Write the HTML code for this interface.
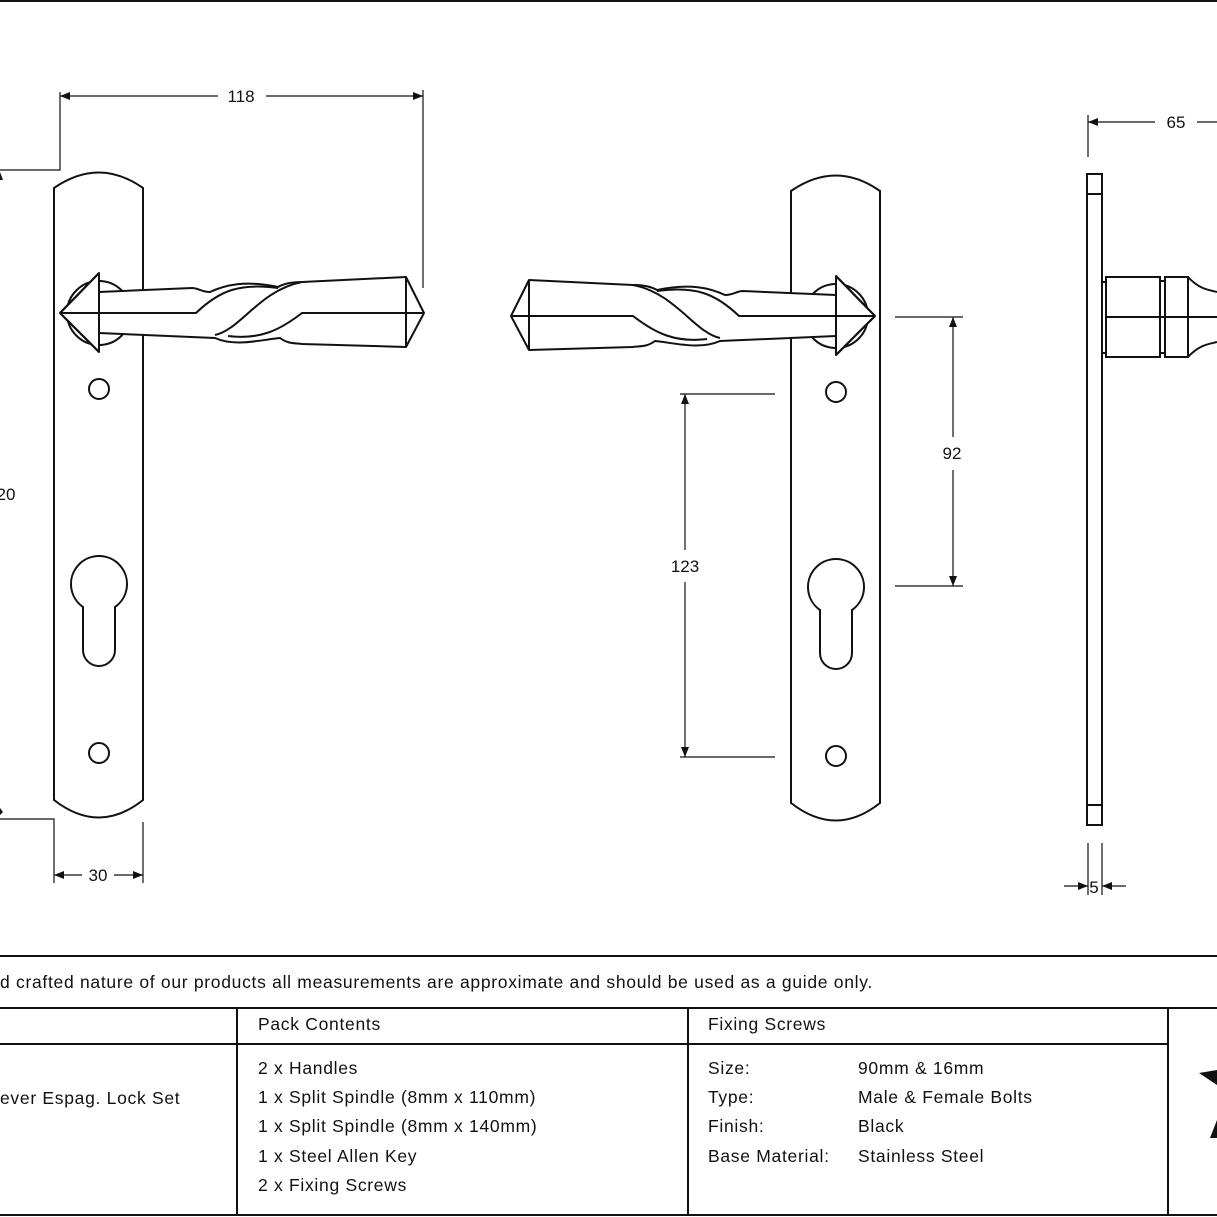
<!DOCTYPE html>
<html><head><style>body{margin:0;background:#fff}svg{display:block}text{font-family:"Liberation Sans",sans-serif;fill:#111}</style></head><body>
<svg width="1217" height="1217" viewBox="0 0 1217 1217" xmlns="http://www.w3.org/2000/svg">
<defs>
<marker id="a" markerWidth="10" markerHeight="8" refX="10" refY="4" orient="auto-start-reverse" markerUnits="userSpaceOnUse"><path d="M0,0 L10,4 L0,8 Z" fill="#111"/></marker>
<g id="plate" fill="none" stroke="#111" stroke-width="2">
<path d="M54,188 Q99,157 143,188 L143,800 Q99,835 54,800 Z" fill="#fff"/>
<circle cx="99" cy="389" r="10"/>
<circle cx="99" cy="753" r="10"/>
<path d="M83,607 A28,28 0 1 1 115,607 L115,650 A16,16 0 0 1 83,650 Z"/>
</g>
<g id="handle" fill="none" stroke="#111" stroke-width="2" stroke-linejoin="round">
<circle cx="99" cy="313" r="32" fill="#fff"/>
<path d="M60,313 L99,273 L99,352 Z" fill="#fff"/>
<path d="M99,292 L192,288 C198,288 202,292 210,292 C225,285 245,280 278,287 C285,283 295,282 302,282 L406,277 L424,313 L406,347 L302,344 C295,343 288,344 280,338 C260,340 235,347 215,338 L99,333 Z" fill="#fff"/>
<path d="M60,313 L196,313 C220,290 240,283 278,288"/>
<path d="M215,335 C240,330 260,290 302,282"/>
<path d="M228,336 C260,340 280,330 302,313 L424,313"/>
<path d="M406,277 L406,347"/>
<path d="M60,313 L99,273 M60,313 L99,352"/>
</g>
</defs>
<rect x="0" y="0" width="1217" height="2" fill="#111"/>
<use href="#plate"/>
<use href="#handle"/>
<use href="#plate" transform="translate(737,3)"/>
<use href="#handle" transform="translate(935,3) scale(-1,1)"/>
<g stroke="#111" stroke-width="1.2" fill="none">
<path d="M60,92 V170 H0"/><path d="M423,90 V288"/>
<line x1="60" y1="96" x2="218" y2="96" marker-start="url(#a)"/><line x1="266" y1="96" x2="423" y2="96" marker-end="url(#a)"/>
<path d="M0,819 H54 V883"/><path d="M143,822 V883"/>
<line x1="54" y1="875" x2="82" y2="875" marker-start="url(#a)"/><line x1="114" y1="875" x2="143" y2="875" marker-end="url(#a)"/>
<path d="M680,394 H775 M680,757 H775"/>
<line x1="685" y1="394" x2="685" y2="550" marker-start="url(#a)"/><line x1="685" y1="582" x2="685" y2="757" marker-end="url(#a)"/>
<path d="M895,317 H963 M895,586 H963"/>
<line x1="953" y1="317" x2="953" y2="437" marker-start="url(#a)"/><line x1="953" y1="470" x2="953" y2="586" marker-end="url(#a)"/>
<path d="M1088,115 V157"/>
<line x1="1088" y1="122" x2="1155" y2="122" marker-start="url(#a)"/><line x1="1197" y1="122" x2="1217" y2="122"/>
<path d="M1088,843 V895 M1102,843 V895"/>
<line x1="1064" y1="886" x2="1088" y2="886" marker-end="url(#a)"/><line x1="1126" y1="886" x2="1102" y2="886" marker-end="url(#a)"/>
</g>
<path d="M0,172 L3,180 L0,180Z M0,808 L3,812 L0,815Z" fill="#111"/>
<g stroke="#111" stroke-width="2" fill="none">
<rect x="1087" y="174" width="15" height="651"/>
<path d="M1087,194 H1102 M1087,805 H1102"/>
<rect x="1102" y="282" width="4" height="71"/>
<rect x="1106" y="277" width="54" height="80"/>
<rect x="1160" y="281" width="5" height="72"/>
<rect x="1165" y="277" width="23" height="80"/>
<path d="M1188,277 C1200,290 1210,290 1217,292 M1188,357 C1200,344 1210,344 1217,342 M1106,317 H1217"/>
</g>
<g font-size="17" text-anchor="middle">
<text x="241" y="102">118</text><text x="98" y="881">30</text><text x="685" y="572">123</text>
<text x="952" y="459">92</text><text x="1176" y="128">65</text><text x="1094" y="893">5</text>
<text x="6" y="500">20</text>
</g>
<g stroke="#111" stroke-width="2">
<line x1="0" y1="956" x2="1217" y2="956"/>
<line x1="0" y1="1008" x2="1217" y2="1008"/>
<line x1="0" y1="1044" x2="1168" y2="1044"/>
<line x1="0" y1="1215" x2="1217" y2="1215"/>
<line x1="237" y1="1008" x2="237" y2="1215"/>
<line x1="688" y1="1008" x2="688" y2="1215"/>
<line x1="1168" y1="1008" x2="1168" y2="1215"/>
</g>
<g font-size="17.5" letter-spacing="0.7">
<text x="0" y="988">d crafted nature of our products all measurements are approximate and should be used as a guide only.</text>
<text x="258" y="1030">Pack Contents</text><text x="708" y="1030">Fixing Screws</text>
<text x="0" y="1104">ever Espag. Lock Set</text>
<text x="258" y="1074">2 x Handles</text>
<text x="258" y="1103">1 x Split Spindle (8mm x 110mm)</text>
<text x="258" y="1132">1 x Split Spindle (8mm x 140mm)</text>
<text x="258" y="1162">1 x Steel Allen Key</text>
<text x="258" y="1191">2 x Fixing Screws</text>
<text x="708" y="1074">Size:</text><text x="858" y="1074">90mm &amp; 16mm</text>
<text x="708" y="1103">Type:</text><text x="858" y="1103">Male &amp; Female Bolts</text>
<text x="708" y="1132">Finish:</text><text x="858" y="1132">Black</text>
<text x="708" y="1162">Base Material:</text><text x="858" y="1162">Stainless Steel</text>
</g>
<path d="M1199,1073 L1217,1070 L1217,1085 Z M1210,1138 L1217,1120 L1217,1138 Z" fill="#111"/>
</svg>
</body></html>
